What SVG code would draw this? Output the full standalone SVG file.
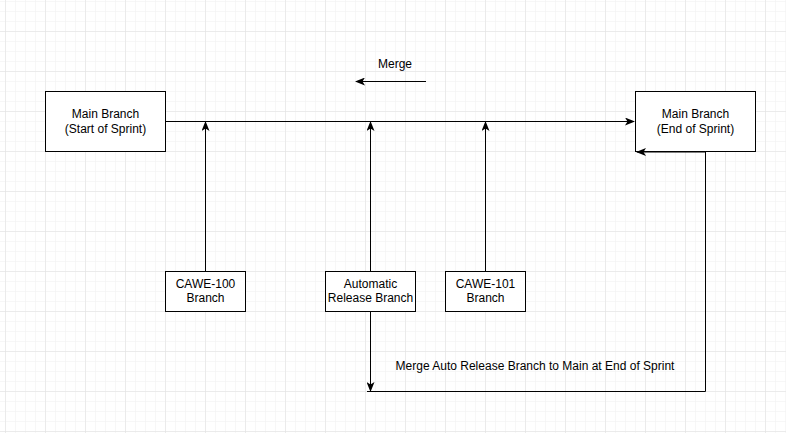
<svg xmlns="http://www.w3.org/2000/svg" width="786" height="433" viewBox="0 0 786 433">
<defs>
<pattern id="minor" width="10" height="10" patternUnits="userSpaceOnUse" x="5" y="1">
<path d="M0 0H10M0 0V10" fill="none" stroke="#f0f0f0" stroke-width="1"/>
</pattern>
<pattern id="major" width="40" height="40" patternUnits="userSpaceOnUse" x="5" y="31">
<path d="M0 0H40M0 0V40" fill="none" stroke="#e0e0e0" stroke-width="1"/>
</pattern>
<marker id="arr" viewBox="0 0 10 8" refX="9" refY="4" markerWidth="10" markerHeight="8" markerUnits="userSpaceOnUse" orient="auto">
<path d="M0 0L10 4L0 8L2.5 4Z" fill="#000"/>
</marker>
</defs>
<style>
.box{fill:#fff;stroke:#000;stroke-width:1}
.t{font-family:"Liberation Sans",Arial,sans-serif;font-size:12px;fill:#000;text-anchor:middle}
.e{fill:none;stroke:#000;stroke-width:1}
</style>
<rect width="786" height="433" fill="#fff"/>
<rect width="786" height="433" fill="url(#minor)"/>
<rect width="786" height="433" fill="url(#major)"/>
<g id="merge-label"><text class="t" x="395" y="68">Merge</text></g>
<g id="bottom-label"><text class="t" x="535" y="370">Merge Auto Release Branch to Main at End of Sprint</text></g>
<g id="main-start">
<rect class="box" x="45.5" y="91.5" width="120" height="60"/>
<text class="t" x="105.5" y="118">Main Branch</text>
<text class="t" x="105.5" y="133">(Start of Sprint)</text>
</g>
<g id="main-end">
<rect class="box" x="635.5" y="91.5" width="120" height="60"/>
<text class="t" x="695.5" y="118">Main Branch</text>
<text class="t" x="695.5" y="133">(End of Sprint)</text>
</g>
<g id="cawe-100">
<rect class="box" x="165.5" y="271.5" width="80" height="40"/>
<text class="t" x="205.5" y="288">CAWE-100</text>
<text class="t" x="205.5" y="302">Branch</text>
</g>
<g id="auto-release">
<rect class="box" x="325.5" y="271.5" width="90" height="40"/>
<text class="t" x="370.5" y="288">Automatic</text>
<text class="t" x="370.5" y="302">Release Branch</text>
</g>
<g id="cawe-101">
<rect class="box" x="445.5" y="271.5" width="80" height="40"/>
<text class="t" x="485.5" y="288">CAWE-101</text>
<text class="t" x="485.5" y="302">Branch</text>
</g>
<g id="connectors">
<path class="e" d="M165.5 121.5H634" marker-end="url(#arr)"/>
<path class="e" d="M205.5 271V122" marker-end="url(#arr)"/>
<path class="e" d="M370.5 271V122" marker-end="url(#arr)"/>
<path class="e" d="M485.5 271V122" marker-end="url(#arr)"/>
<path class="e" d="M426 81.5H356" marker-end="url(#arr)"/>
<path class="e" d="M370.5 312V391" marker-end="url(#arr)"/>
<path class="e" d="M367 391.5H705.5V152H637" marker-end="url(#arr)"/>
</g>
</svg>
